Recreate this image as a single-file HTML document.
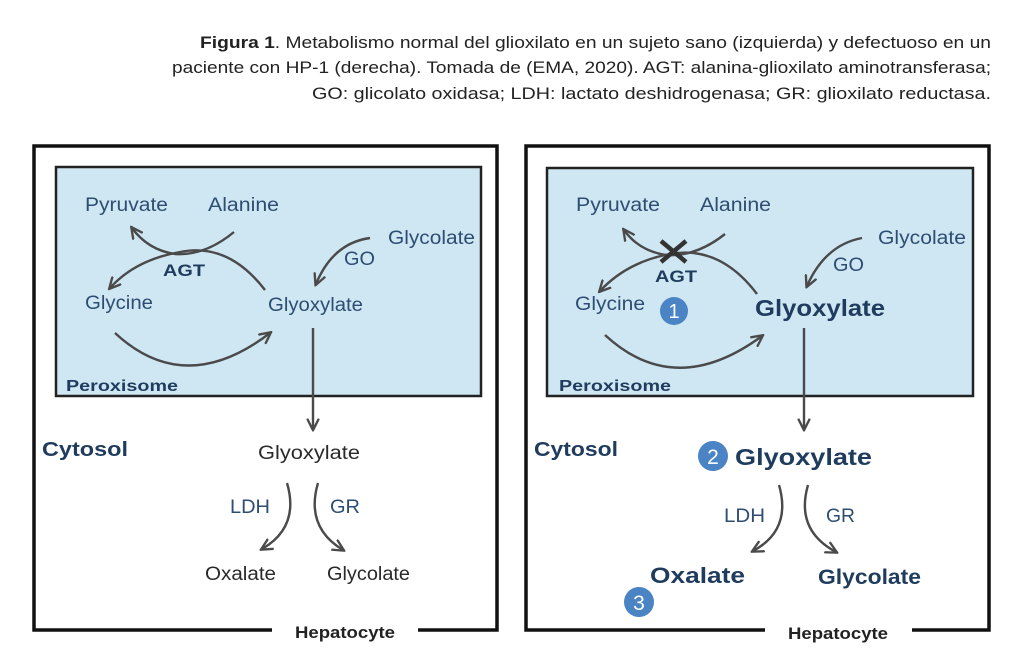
<!DOCTYPE html>
<html><head><meta charset="utf-8"><style>
html,body{margin:0;padding:0;background:#fff;width:1024px;height:669px;overflow:hidden}
svg{display:block}
text{font-family:"Liberation Sans",sans-serif}
.cap{font-size:17px;fill:#222}
.b{fill:#2d4e72;font-size:19px}
.k{fill:#2a2a2a;font-size:19px}
.bold{font-weight:bold;fill:#1f3c5e}
.ln{fill:none;stroke:#4a4a4a;stroke-width:2.4;marker-end:url(#ah)}
</style></head><body>
<svg width="1024" height="669" viewBox="0 0 1024 669" xmlns="http://www.w3.org/2000/svg">
<defs>
<marker id="ah" viewBox="0 0 10 10" refX="8" refY="5" markerWidth="13" markerHeight="13" orient="auto" markerUnits="userSpaceOnUse">
<path d="M0,0.5 L9,5 L0,9.5" fill="none" stroke="#4a4a4a" stroke-width="1.8"/>
</marker>
</defs>
<text class="cap" x="991" y="48" text-anchor="end" textLength="791" lengthAdjust="spacingAndGlyphs"><tspan font-weight="bold">Figura 1</tspan>. Metabolismo normal del glioxilato en un sujeto sano (izquierda) y defectuoso en un</text>
<text class="cap" x="991" y="73" text-anchor="end" textLength="819" lengthAdjust="spacingAndGlyphs">paciente con HP-1 (derecha). Tomada de (EMA, 2020). AGT: alanina-glioxilato aminotransferasa;</text>
<text class="cap" x="991" y="99" text-anchor="end" textLength="679" lengthAdjust="spacingAndGlyphs">GO: glicolato oxidasa; LDH: lactato deshidrogenasa; GR: glioxilato reductasa.</text>

<!-- LEFT PANEL -->
<rect x="56" y="167" width="425" height="229" fill="#cfe6f3" stroke="#222" stroke-width="2.5"/>
<path d="M272,630 L34,630 L34,146 L497,146 L497,630 L418,630" fill="none" stroke="#111" stroke-width="3.5"/>
<text class="b" x="85" y="211" textLength="83" lengthAdjust="spacingAndGlyphs">Pyruvate</text>
<text class="b" x="208" y="211" textLength="71" lengthAdjust="spacingAndGlyphs">Alanine</text>
<text class="b" x="388" y="244" textLength="87" lengthAdjust="spacingAndGlyphs">Glycolate</text>
<text class="b" x="344" y="265" fill="#333" textLength="31" lengthAdjust="spacingAndGlyphs">GO</text>
<text class="bold" x="163" y="276" font-size="17" textLength="42" lengthAdjust="spacingAndGlyphs">AGT</text>
<text class="b" x="85" y="309" textLength="68" lengthAdjust="spacingAndGlyphs">Glycine</text>
<text class="b" x="268" y="311" textLength="95" lengthAdjust="spacingAndGlyphs">Glyoxylate</text>
<text class="bold" x="66" y="391" font-size="16" textLength="112" lengthAdjust="spacingAndGlyphs">Peroxisome</text>
<path class="ln" d="M234,232 Q205,256 175,254 Q148,250 132,228"/>
<path class="ln" d="M265,290 Q228,242 180,252 Q135,260 110,288"/>
<path class="ln" d="M115,333 Q185,398 270,333"/>
<path class="ln" d="M370,238 Q333,243 316,284"/>
<path class="ln" d="M313,328 L313,429"/>
<text class="bold" x="42" y="456" font-size="20" textLength="86" lengthAdjust="spacingAndGlyphs">Cytosol</text>
<text class="k" x="258" y="459" textLength="102" lengthAdjust="spacingAndGlyphs">Glyoxylate</text>
<text class="b" x="230" y="513" textLength="40" lengthAdjust="spacingAndGlyphs">LDH</text>
<text class="b" x="330" y="513" textLength="30" lengthAdjust="spacingAndGlyphs">GR</text>
<path class="ln" d="M287,483 Q300,527 262,549"/>
<path class="ln" d="M318,483 Q305,527 343,550"/>
<text class="k" x="205" y="580" textLength="71" lengthAdjust="spacingAndGlyphs">Oxalate</text>
<text class="k" x="327" y="580" textLength="83" lengthAdjust="spacingAndGlyphs">Glycolate</text>
<text x="295" y="638" font-size="17" font-weight="bold" fill="#222" textLength="100" lengthAdjust="spacingAndGlyphs">Hepatocyte</text>

<!-- RIGHT PANEL -->
<rect x="547" y="168" width="426" height="228" fill="#cfe6f3" stroke="#222" stroke-width="2.5"/>
<path d="M765,630 L526,630 L526,146 L989,146 L989,630 L912,630" fill="none" stroke="#111" stroke-width="3.5"/>
<text class="b" x="576" y="211" textLength="84" lengthAdjust="spacingAndGlyphs">Pyruvate</text>
<text class="b" x="700" y="211" textLength="71" lengthAdjust="spacingAndGlyphs">Alanine</text>
<text class="b" x="878" y="244" textLength="88" lengthAdjust="spacingAndGlyphs">Glycolate</text>
<text class="b" x="833" y="271" fill="#333" textLength="31" lengthAdjust="spacingAndGlyphs">GO</text>
<text class="bold" x="655" y="282" font-size="17" textLength="42" lengthAdjust="spacingAndGlyphs">AGT</text>
<text class="b" x="575" y="310" textLength="70" lengthAdjust="spacingAndGlyphs">Glycine</text>
<circle cx="674" cy="311" r="14" fill="#4a84c4"/>
<text x="674" y="318" font-size="20" fill="#fff" text-anchor="middle">1</text>
<text class="bold" x="755" y="316" font-size="23" textLength="130" lengthAdjust="spacingAndGlyphs">Glyoxylate</text>
<text class="bold" x="559" y="391" font-size="16" textLength="112" lengthAdjust="spacingAndGlyphs">Peroxisome</text>
<path class="ln" d="M725,234 Q696,257 666,255 Q639,251 624,230"/>
<path class="ln" d="M757,294 Q720,245 670,254 Q627,262 600,291"/>
<path class="ln" d="M605,335 Q675,400 762,336"/>
<path class="ln" d="M862,238 Q825,245 807,286"/>
<path d="M661,241 L686,262 M686,241 L661,262" stroke="#333" stroke-width="4.5"/>
<path class="ln" d="M804,328 L804,429"/>
<text class="bold" x="534" y="456" font-size="20" textLength="84" lengthAdjust="spacingAndGlyphs">Cytosol</text>
<circle cx="713" cy="456" r="15" fill="#4a84c4"/>
<text x="713" y="464" font-size="21" fill="#fff" text-anchor="middle">2</text>
<text class="bold" x="735" y="465" font-size="23" textLength="137" lengthAdjust="spacingAndGlyphs">Glyoxylate</text>
<text class="b" x="724" y="522" textLength="41" lengthAdjust="spacingAndGlyphs">LDH</text>
<text class="b" x="826" y="522" textLength="29" lengthAdjust="spacingAndGlyphs">GR</text>
<path class="ln" d="M779,485 Q792,530 753,551"/>
<path class="ln" d="M808,485 Q795,530 836,552"/>
<text class="bold" x="650" y="583" font-size="22" textLength="95" lengthAdjust="spacingAndGlyphs">Oxalate</text>
<text class="bold" x="818" y="584" font-size="21" textLength="103" lengthAdjust="spacingAndGlyphs">Glycolate</text>
<circle cx="639" cy="602" r="15" fill="#4a84c4"/>
<text x="639" y="610" font-size="21" fill="#fff" text-anchor="middle">3</text>
<text x="788" y="639" font-size="17" font-weight="bold" fill="#222" textLength="100" lengthAdjust="spacingAndGlyphs">Hepatocyte</text>
</svg>
</body></html>
